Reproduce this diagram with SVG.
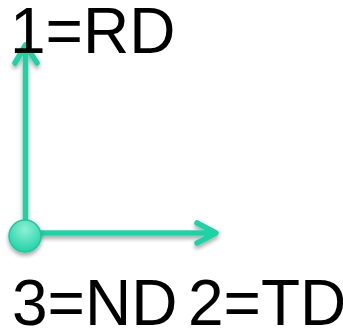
<svg xmlns="http://www.w3.org/2000/svg" width="343" height="328" viewBox="0 0 343 328">
<style>
.ax{fill:none;stroke:#1fd3a6;stroke-width:5.5;stroke-linecap:round;stroke-linejoin:round}
.lbl{font-family:"Liberation Sans",Arial,sans-serif;font-size:64px;fill:#000}
</style>
<defs>
<filter id="sh" x="-20%" y="-20%" width="140%" height="140%">
<feGaussianBlur in="SourceAlpha" stdDeviation="2"/>
<feOffset dx="0" dy="3" result="b"/>
<feComponentTransfer><feFuncA type="linear" slope="0.35"/></feComponentTransfer>
<feMerge><feMergeNode/><feMergeNode in="SourceGraphic"/></feMerge>
</filter>
<radialGradient id="cg" cx="0.5" cy="0.3" r="0.7">
<stop offset="0" stop-color="#8ff0d4"/>
<stop offset="1" stop-color="#1fd3a6"/>
</radialGradient>
</defs>
<g id="connectors" filter="url(#sh)">
<path class="ax" d="M25.5,236 V46 M15,63 L25.5,45 L37,63"/>
<path class="ax" d="M25,233 H215 M197,223 L216,233 L197,243"/>
</g>
<g id="origin" filter="url(#sh)">
<circle cx="25" cy="236" r="16" fill="url(#cg)" stroke="#1cc89d" stroke-width="1.5"/>
</g>
<g id="rd"><text class="lbl" x="10" y="53">1=RD</text></g>
<g id="nd"><text class="lbl" x="12" y="325">3=ND</text></g>
<g id="td"><text class="lbl" x="188" y="325">2=TD</text></g>
</svg>
